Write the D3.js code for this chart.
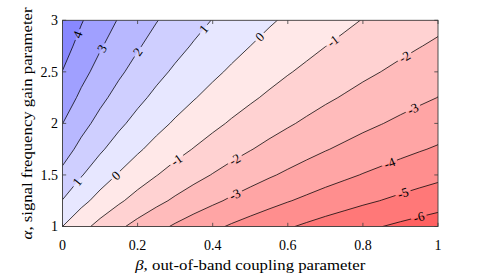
<!DOCTYPE html>
<html>
<head>
<meta charset="utf-8">
<script src="https://cdn.jsdelivr.net/npm/d3@7"></script>
<style>
  body { margin: 0; background: #fff; }
  svg { display: block; }
  text { font-family: "Liberation Serif", "Times New Roman", serif; fill: #000; }
</style>
</head>
<body>
<div id="chart"></div>
<script>

// grid of gain values (dB), one row per alpha
let betaValues = [0, 0.05, 0.1, 0.15, 0.2, 0.25, 0.3, 0.35, 0.4, 0.45, 0.5,
                  0.55, 0.6, 0.65, 0.7, 0.75, 0.8, 0.85, 0.9, 0.95, 1];
let alphaValues = [1, 1.25, 1.5, 1.75, 2, 2.25, 2.5, 2.75, 3];
let gainRows = [
  [0.00, -0.70, -1.30, -1.83, -2.30, -2.73, -3.12, -3.47, -3.80, -4.11, -4.39, -4.66, -4.91, -5.15, -5.38, -5.59, -5.80, -5.99, -6.18, -6.36, -6.53],
  [0.97,  0.27, -0.33, -0.86, -1.34, -1.76, -2.15, -2.51, -2.83, -3.14, -3.42, -3.69, -3.95, -4.18, -4.41, -4.62, -4.83, -5.02, -5.21, -5.39, -5.56],
  [1.76,  1.06,  0.46, -0.07, -0.54, -0.97, -1.36, -1.71, -2.04, -2.35, -2.63, -2.90, -3.15, -3.39, -3.62, -3.83, -4.04, -4.23, -4.42, -4.60, -4.77],
  [2.43,  1.73,  1.13,  0.60,  0.13, -0.30, -0.69, -1.04, -1.37, -1.68, -1.96, -2.23, -2.48, -2.72, -2.95, -3.16, -3.37, -3.56, -3.75, -3.93, -4.10],
  [3.01,  2.31,  1.71,  1.18,  0.71,  0.28, -0.11, -0.46, -0.79, -1.10, -1.38, -1.65, -1.90, -2.14, -2.37, -2.58, -2.79, -2.98, -3.17, -3.35, -3.52],
  [3.52,  2.82,  2.22,  1.69,  1.22,  0.79,  0.40,  0.05, -0.28, -0.59, -0.87, -1.14, -1.39, -1.63, -1.86, -2.07, -2.28, -2.47, -2.66, -2.84, -3.01],
  [3.98,  3.28,  2.68,  2.15,  1.68,  1.25,  0.86,  0.51,  0.18, -0.13, -0.41, -0.68, -0.94, -1.17, -1.40, -1.61, -1.82, -2.01, -2.20, -2.38, -2.55],
  [4.39,  3.69,  3.09,  2.56,  2.09,  1.66,  1.28,  0.92,  0.59,  0.29,  0.00, -0.27, -0.52, -0.76, -0.99, -1.20, -1.41, -1.60, -1.79, -1.97, -2.14],
  [4.77,  4.07,  3.47,  2.94,  2.47,  2.04,  1.65,  1.30,  0.97,  0.66,  0.38,  0.11, -0.14, -0.38, -0.61, -0.82, -1.03, -1.22, -1.41, -1.59, -1.76]
];
let levels = [-6, -5, -4, -3, -2, -1, 0, 1, 2, 3, 4];
let xTicks = [0, 0.2, 0.4, 0.6, 0.8, 1];
let yTicks = [1, 1.5, 2, 2.5, 3];
// which contour gets a label, and at which beta
let labelLevels = [4, 3, 2, 1, 1, 0, 0, -1, -1, -2, -2, -3, -3, -4, -5, -6];
let labelBetas = [0.04, 0.105, 0.2, 0.376, 0.039, 0.525, 0.142, 0.72, 0.304, 0.911, 0.459, 0.933, 0.459, 0.871, 0.907, 0.949];

let width = 485;
let height = 276;
let plotLeft = 62.5, plotRight = 438, plotTop = 20.3, plotBottom = 226.5;

let svg = d3.select("#chart")
            .append("svg")
            .attr("width", width)
            .attr("height", height);

let xScale = d3.scaleLinear().domain([0, 1]).range([plotLeft, plotRight]);
let yScale = d3.scaleLinear().domain([1, 3]).range([plotBottom, plotTop]);

let nb = betaValues.length, na = alphaValues.length;
// d3.contours puts sample i at i + 0.5
let gridX = d3.scaleLinear().domain([0.5, nb - 0.5]).range([betaValues[0], betaValues[nb - 1]]);
let gridY = d3.scaleLinear().domain([0.5, na - 0.5]).range([alphaValues[0], alphaValues[na - 1]]);

let toPixel = (p) => [xScale(gridX(p[0])), yScale(gridY(p[1]))];
let projection = d3.geoTransform({
  point: function(px, py) {
    let q = toPixel([px, py]);
    this.stream.point(q[0], q[1]);
  }
});
let path = d3.geoPath(projection);

let contours = d3.contours()
                 .size([nb, na])
                 .thresholds(levels)(gainRows.flat());

let color = d3.scaleLinear()
              .domain([-7, 0, 5])
              .range(["#ff6161", "#ffffff", "#8888ff"]);

let defs = svg.append("defs");
defs.append("clipPath")
    .attr("id", "plot-clip")
    .append("rect")
    .attr("x", plotLeft).attr("y", plotTop)
    .attr("width", plotRight - plotLeft).attr("height", plotBottom - plotTop);

let mask = defs.append("mask")
               .attr("id", "label-gaps")
               .attr("maskUnits", "userSpaceOnUse")
               .attr("x", 0).attr("y", 0)
               .attr("width", width).attr("height", height);
mask.append("rect")
    .attr("width", width).attr("height", height)
    .attr("fill", "white");

// filled bands
let fills = svg.append("g").attr("clip-path", "url(#plot-clip)");
fills.append("rect")
     .attr("x", plotLeft).attr("y", plotTop)
     .attr("width", plotRight - plotLeft).attr("height", plotBottom - plotTop)
     .attr("fill", color(-7));
fills.selectAll("path")
     .data(contours)
     .enter()
     .append("path")
     .attr("d", path)
     .attr("fill", d => color(d.value < 0 ? d.value : d.value + 1));

// contour lines
svg.append("g")
   .attr("clip-path", "url(#plot-clip)")
   .append("g")
   .attr("mask", "url(#label-gaps)")
   .selectAll("path")
   .data(contours)
   .enter()
   .append("path")
   .attr("d", path)
   .attr("fill", "none")
   .attr("stroke", "#000")
   .attr("stroke-width", 0.75);

// find where a contour line crosses x = xScale(beta)
function labelSpot(level, beta) {
  let c = contours.find(d => d.value === level);
  let X = xScale(beta);
  let inside = (p) => p[0] >= plotLeft - 0.5 && p[0] <= plotRight + 0.5 && p[1] >= plotTop - 0.5 && p[1] <= plotBottom + 0.5;
  for (let poly of c.coordinates) {
    for (let ring of poly) {
      for (let i = 1; i < ring.length; i++) {
        let p0 = toPixel(ring[i - 1]), p1 = toPixel(ring[i]);
        if (!inside(p0) || !inside(p1)) continue;
        if ((p0[0] - X) * (p1[0] - X) > 0 || p0[0] === p1[0]) continue;
        let t = (X - p0[0]) / (p1[0] - p0[0]);
        let angle = Math.atan2(p1[1] - p0[1], p1[0] - p0[0]) * 180 / Math.PI;
        if (angle > 90) angle -= 180;
        if (angle < -90) angle += 180;
        return { x: X, y: p0[1] + t * (p1[1] - p0[1]), angle: angle };
      }
    }
  }
  return { x: X, y: -50, angle: 0 };
}

let labelData = labelLevels.map((lv, i) => Object.assign({ level: lv }, labelSpot(lv, labelBetas[i])));

let labels = svg.append("g")
   .selectAll("text")
   .data(labelData)
   .enter()
   .append("text")
   .attr("transform", d => `translate(${d.x},${d.y}) rotate(${d.angle})`)
   .attr("text-anchor", "middle")
   .attr("dy", "0.34em")
   .style("font-size", "13px")
   .text(d => d.level);

labels.each(function(d) {
  let w = this.getComputedTextLength() + 5;
  mask.append("rect")
      .attr("x", -w / 2).attr("y", -5)
      .attr("width", w).attr("height", 10)
      .attr("transform", `translate(${d.x},${d.y}) rotate(${d.angle})`)
      .attr("fill", "black");
});

// frame and inward ticks
let axisColor = "#3c3c3c";
let ticks = svg.append("g").attr("stroke", axisColor).attr("stroke-width", 0.8);
xTicks.forEach(t => {
  ticks.append("line").attr("x1", xScale(t)).attr("x2", xScale(t)).attr("y1", plotBottom).attr("y2", plotBottom - 3.7);
  ticks.append("line").attr("x1", xScale(t)).attr("x2", xScale(t)).attr("y1", plotTop).attr("y2", plotTop + 3.7);
});
yTicks.forEach(t => {
  ticks.append("line").attr("x1", plotLeft).attr("x2", plotLeft + 3.7).attr("y1", yScale(t)).attr("y2", yScale(t));
  ticks.append("line").attr("x1", plotRight).attr("x2", plotRight - 3.7).attr("y1", yScale(t)).attr("y2", yScale(t));
});
svg.append("rect")
   .attr("x", plotLeft).attr("y", plotTop)
   .attr("width", plotRight - plotLeft).attr("height", plotBottom - plotTop)
   .attr("fill", "none")
   .attr("stroke", axisColor)
   .attr("stroke-width", 0.9);

// tick labels
svg.append("g")
   .selectAll("text")
   .data(xTicks)
   .enter()
   .append("text")
   .attr("x", d => xScale(d))
   .attr("y", 249.5)
   .attr("text-anchor", "middle")
   .style("font-size", "14px")
   .text(d => d);

svg.append("g")
   .selectAll("text")
   .data(yTicks)
   .enter()
   .append("text")
   .attr("x", plotLeft - 4.5)
   .attr("y", d => yScale(d))
   .attr("dy", "0.34em")
   .attr("text-anchor", "end")
   .style("font-size", "14px")
   .text(d => d);

// axis titles
let xTitle = svg.append("text")
   .attr("x", (plotLeft + plotRight) / 2)
   .attr("y", 270)
   .attr("text-anchor", "middle")
   .attr("textLength", 230)
   .attr("lengthAdjust", "spacingAndGlyphs")
   .style("font-size", "14.5px");
xTitle.append("tspan").style("font-style", "italic").text("β");
xTitle.append("tspan").text(", out-of-band coupling parameter");

let yTitle = svg.append("text")
   .attr("transform", `translate(31.5, ${(plotTop + plotBottom) / 2}) rotate(-90)`)
   .attr("text-anchor", "middle")
   .attr("textLength", 232)
   .attr("lengthAdjust", "spacingAndGlyphs")
   .style("font-size", "14.5px");
yTitle.append("tspan").style("font-style", "italic").text("α");
yTitle.append("tspan").text(", signal frequency gain parameter");

</script>
</body>
</html>
